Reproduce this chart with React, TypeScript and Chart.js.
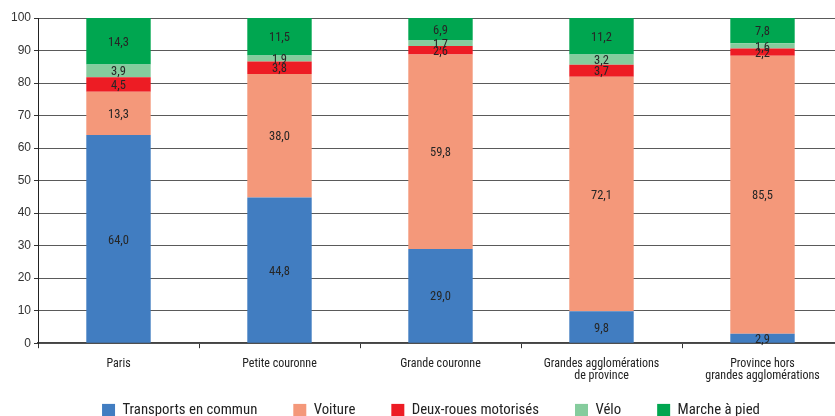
import React, { useEffect, useRef } from "react";
import { Chart, registerables } from "chart.js";

Chart.register(...registerables);

// Part modale des déplacements (%), par type de territoire
const categories: (string | string[])[] = [
  "Paris",
  "Petite couronne",
  "Grande couronne",
  ["Grandes agglomérations", "de province"],
  ["Province hors", "grandes agglomérations"],
];

const transportsEnCommun = [64.0, 44.8, 29.0, 9.8, 2.9];
const voiture = [13.3, 38.0, 59.8, 72.1, 85.5];
const deuxRouesMotorises = [4.5, 3.8, 2.6, 3.7, 2.2];
const velo = [3.9, 1.9, 1.7, 3.2, 1.6];
const marcheAPied = [14.3, 11.5, 6.9, 11.2, 7.8];

const seriesNames = [
  "Transports en commun",
  "Voiture",
  "Deux-roues motorisés",
  "Vélo",
  "Marche à pied",
];
const seriesColors = ["#417DC1", "#F4987A", "#ED1C24", "#85CC9D", "#00A650"];

const yMin = 0;
const yMax = 100;
const yStep = 10;

const REGULAR = "'Liberation Sans', Arial, sans-serif";
const NARROW_CANDIDATES = [
  "Liberation Sans Narrow",
  "Arial Narrow",
  "Nimbus Sans Narrow",
  "Noto Sans Condensed",
  "Roboto Condensed",
  "Open Sans Condensed",
  "DejaVu Sans Condensed",
];

// First narrow face that the system actually has
function pickNarrowFamily(): string {
  const ctx = document.createElement("canvas").getContext("2d")!;
  const sample = "Grandes agglomérations 0123456789 mmwwii";
  for (const name of NARROW_CANDIDATES) {
    for (const generic of ["monospace", "serif"]) {
      ctx.font = `40px ${generic}`;
      const ref = ctx.measureText(sample).width;
      ctx.font = `40px '${name}', ${generic}`;
      if (Math.abs(ctx.measureText(sample).width - ref) > 0.5) {
        return `'${name}', sans-serif`;
      }
    }
  }
  return REGULAR;
}

// Font size at which a text reaches a given width in this family
function sizeForWidth(family: string, text: string, width: number): number {
  const ctx = document.createElement("canvas").getContext("2d")!;
  ctx.font = `20px ${family}`;
  const w = ctx.measureText(text).width;
  return Math.round(((20 * width) / w) * 10) / 10;
}

const formatValue = (v: number) => v.toFixed(1).replace(".", ",");

export default function App() {
  const canvasRef = useRef<HTMLCanvasElement | null>(null);

  useEffect(() => {
    if (!canvasRef.current) return;
    const narrow = pickNarrowFamily();
    const labelSize = sizeForWidth(narrow, "Grandes agglomérations", 116);
    const legendSize = sizeForWidth(narrow, "Transports en commun", 135);
    const valueSize = sizeForWidth(narrow, "64,0", 21);

    // Writes each segment's value in the middle of its bar piece
    const valueLabels = {
      id: "valueLabels",
      afterDatasetsDraw(chart: any) {
        const ctx = chart.ctx as CanvasRenderingContext2D;
        ctx.save();
        ctx.font = `${valueSize}px ${narrow}`;
        ctx.fillStyle = "#262626";
        ctx.textAlign = "center";
        ctx.textBaseline = "middle";
        chart.data.datasets.forEach((ds: any, di: number) => {
          const meta = chart.getDatasetMeta(di);
          meta.data.forEach((bar: any, i: number) => {
            const v = ds.data[i] as number;
            const { x, y, base } = bar.getProps(["x", "y", "base"], true);
            ctx.fillText(formatValue(v), x, (y + base) / 2 + 1.5);
          });
        });
        ctx.restore();
      },
    };

    // Places the legend row: centred under the whole figure, just below the labels
    const legendPlacement = {
      id: "legendPlacement",
      beforeDraw(chart: any) {
        if (chart.legend) {
          chart.legend.left = 19;
          chart.legend.top = 367;
        }
      },
    };

    const values = [transportsEnCommun, voiture, deuxRouesMotorises, velo, marcheAPied];
    const chart = new Chart(canvasRef.current, {
      type: "bar",
      data: {
        labels: categories,
        datasets: values.map((data, i) => ({
          label: seriesNames[i],
          data,
          backgroundColor: seriesColors[i],
          borderWidth: 0,
          barPercentage: 0.4,
          categoryPercentage: 1.0,
        })),
      },
      options: {
        responsive: false,
        devicePixelRatio: 1,
        animation: false,
        layout: { padding: { left: 0, right: 19, top: 18, bottom: 0 } },
        plugins: {
          tooltip: { enabled: false },
          legend: {
            position: "bottom",
            labels: {
              boxWidth: 13,
              boxHeight: 13,
              padding: 36,
              color: "#222",
              font: { family: narrow, size: legendSize },
            },
          },
        },
        scales: {
          x: {
            stacked: true,
            afterFit: (scale: any) => {
              scale.height = 48;
            },
            grid: {
              offset: true,
              drawOnChartArea: false,
              drawTicks: true,
              tickLength: 5,
              color: "#333",
            },
            border: { color: "#444", width: 1.5 },
            ticks: {
              color: "#222",
              padding: 9,
              maxRotation: 0,
              autoSkip: false,
              font: { family: narrow, size: labelSize, lineHeight: 1.05 },
            },
          },
          y: {
            stacked: true,
            min: yMin,
            max: yMax,
            afterFit: (scale: any) => {
              scale.width = 38;
            },
            grid: {
              color: "#5a5a5a",
              lineWidth: 1,
              tickLength: 4,
              tickColor: "#333",
            },
            border: { color: "#222", width: 1 },
            ticks: {
              stepSize: yStep,
              color: "#333",
              padding: 3,
              font: { family: REGULAR, size: 12 },
            },
          },
        },
      },
      plugins: [valueLabels, legendPlacement],
    });
    return () => chart.destroy();
  }, []);

  return (
    <div
      style={{
        position: "fixed",
        left: 0,
        top: 0,
        width: 835,
        height: 416,
        overflow: "hidden",
        background: "#fff",
      }}
    >
      <canvas
        ref={canvasRef}
        width={862}
        height={452}
        style={{ display: "block", width: 862, height: 452 }}
      />
    </div>
  );
}
